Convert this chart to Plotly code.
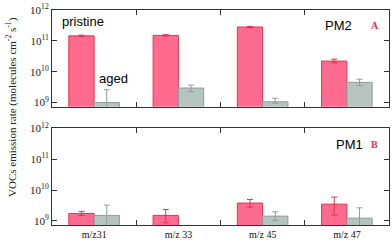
import plotly.graph_objects as go
from plotly.subplots import make_subplots

categories = ["m/z31", "m/z 33", "m/z 45", "m/z 47"]

# PM2 (panel A)
pm2_pristine = [1.45e11, 1.5e11, 2.8e11, 2.2e10]
pm2_pristine_up = [8e9, 8e9, 1.2e10, 3.4e9]
pm2_pristine_dn = [8e9, 8e9, 1.2e10, 2.6e9]
pm2_aged = [1.0e9, 2.95e9, 1.05e9, 4.5e9]
pm2_aged_up = [1.6e9, 0.72e9, 0.32e9, 1.2e9]
pm2_aged_dn = [0.9e9, 0.7e9, 0.1e9, 1.0e9]

# PM1 (panel B)
pm1_pristine = [1.73e9, 1.5e9, 3.76e9, 3.48e9]
pm1_pristine_up = [0.29e9, 0.84e9, 1.19e9, 2.4e9]
pm1_pristine_dn = [0.23e9, 0.64e9, 0.98e9, 1.95e9]
pm1_aged = [1.5e9, None, 1.42e9, 1.22e9]
pm1_aged_up = [1.74e9, 0, 0.54e9, 1.42e9]
pm1_aged_dn = [0.9e9, 0, 0.39e9, 0.72e9]

tick_vals = [1e9, 1e10, 1e11, 1e12]
tick_text = ["10<sup>9</sup>", "10<sup>10</sup>", "10<sup>11</sup>", "10<sup>12</sup>"]

P_FILL, P_LINE = "#FF6B8E", "#E8304F"
A_FILL, A_LINE = "#B6C4C0", "#8E9E99"

fig = make_subplots(rows=2, cols=1, vertical_spacing=0.101, shared_xaxes=False)

def add_panel(row, pv, pu, pd, av, au, ad):
    fig.add_trace(go.Bar(x=categories, y=pv, marker=dict(color=P_FILL, line=dict(color=P_LINE, width=1)),
                         error_y=dict(type="data", symmetric=False, array=pu, arrayminus=pd,
                                      color=P_LINE, thickness=1, width=3),
                         showlegend=False), row=row, col=1)
    fig.add_trace(go.Bar(x=categories, y=av, marker=dict(color=A_FILL, line=dict(color=A_LINE, width=1)),
                         error_y=dict(type="data", symmetric=False, array=au, arrayminus=ad,
                                      color=A_LINE, thickness=1, width=3),
                         showlegend=False), row=row, col=1)

add_panel(1, pm2_pristine, pm2_pristine_up, pm2_pristine_dn, pm2_aged, pm2_aged_up, pm2_aged_dn)
add_panel(2, pm1_pristine, pm1_pristine_up, pm1_pristine_dn, pm1_aged, pm1_aged_up, pm1_aged_dn)

axis_common = dict(showline=True, linecolor="#333333", linewidth=1, mirror="ticks",
                   ticks="inside", ticklen=5, tickcolor="#333333", showgrid=False)

for r in (1, 2):
    fig.update_yaxes(type="log", range=[8.865, 12], tickvals=tick_vals, ticktext=tick_text,
                     tickfont=dict(family="Liberation Serif", size=11, color="#222"),
                     row=r, col=1, **axis_common)
    fig.update_xaxes(type="category", range=[-0.5, 3.5], tickson="boundaries",
                     tickfont=dict(family="Liberation Serif", size=10, color="#111"),
                     showticklabels=(r == 2), row=r, col=1, **axis_common)

fig.update_layout(
    width=392, height=242,
    margin=dict(l=52, r=2, t=9, b=15),
    barmode="group", bargap=0.4, bargroupgap=0,
    plot_bgcolor="white", paper_bgcolor="white",
    yaxis=dict(domain=[0.5505, 1]),
    yaxis2=dict(domain=[0, 0.4495]),
)

sans = dict(family="Liberation Sans", size=13, color="black")
ann = [
    dict(text="pristine", x=0.025, y=0.945, xref="paper", yref="paper", xanchor="left", yanchor="middle", font=sans),
    dict(text="aged", x=0.133, y=0.68, xref="paper", yref="paper", xanchor="left", yanchor="middle", font=sans),
    dict(text="PM2", x=0.803, y=0.93, xref="paper", yref="paper", xanchor="left", yanchor="middle", font=sans),
    dict(text="<b>A</b>", x=0.942, y=0.93, xref="paper", yref="paper", xanchor="left", yanchor="middle",
         font=dict(family="Liberation Serif", size=10, color="#E8304F")),
    dict(text="PM1", x=0.836, y=0.375, xref="paper", yref="paper", xanchor="left", yanchor="middle", font=sans),
    dict(text="<b>B</b>", x=0.942, y=0.375, xref="paper", yref="paper", xanchor="left", yanchor="middle",
         font=dict(family="Liberation Serif", size=10, color="#E8304F")),
    dict(text="VOCs emission rate (molecules cm<sup>-2</sup> s<sup>-1</sup>)", x=-0.118, y=0.55,
         xref="paper", yref="paper", xanchor="center", yanchor="middle", textangle=-90, showarrow=False,
         font=dict(family="Liberation Serif", size=11, color="#222")),
]
for a in ann:
    a.setdefault("showarrow", False)
fig.update_layout(annotations=ann)

fig.write_html("out.html", config={"displayModeBar": False},
               post_script="document.body.style.margin='0px';document.body.style.overflow='hidden';")
